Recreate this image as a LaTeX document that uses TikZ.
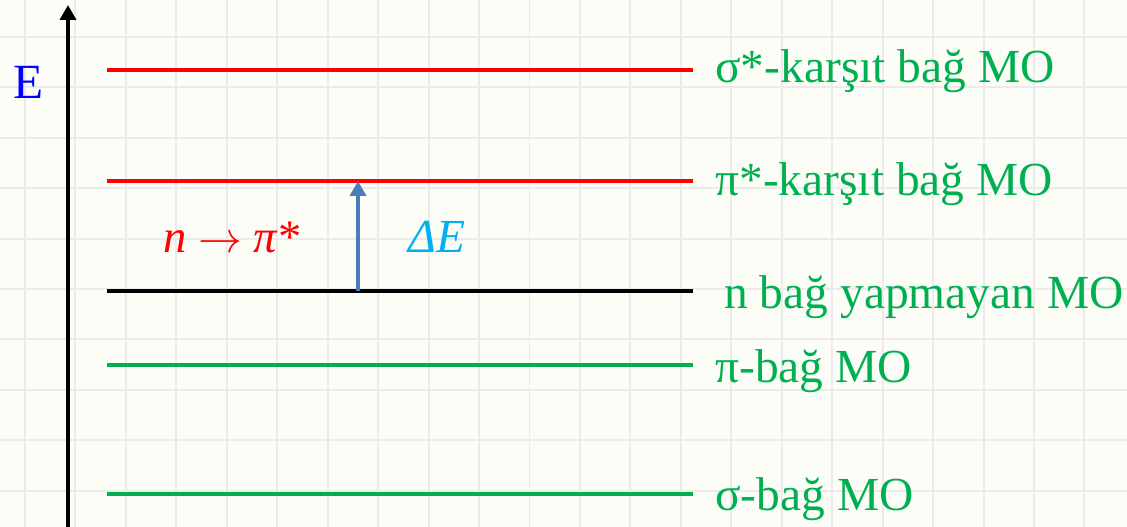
\documentclass[tikz,border=0pt]{standalone}
\usepackage{fontspec}
\setmainfont{Liberation Serif}
\usetikzlibrary{arrows.meta}

\begin{document}
\begin{tikzpicture}[x=0.02cm,y=-0.02cm,>=Latex,
  gridline/.style={draw=black!8,line width=1.1pt},
  molevel/.style={line width=2.4pt},
  molabel/.style={anchor=base west,inner sep=0pt,text=mogreen,font=\fontsize{27}{31}\selectfont}]
\definecolor{paper}{RGB}{253,253,248}
\definecolor{mogreen}{RGB}{0,176,80}
\definecolor{mored}{RGB}{255,0,0}
\definecolor{arrowblue}{RGB}{74,126,187}
\definecolor{deltacyan}{RGB}{0,176,240}
% background and grid
\fill[paper] (0,0) rectangle (1127,527);
\useasboundingbox (0,0) rectangle (1127,527);
\foreach \i in {0,...,21}
  \draw[gridline] ({25+50.45*\i},0) -- ++(0,527);
\foreach \j in {0,...,9}
  \draw[gridline] (0,{37+50.4*\j}) -- ++(1127,0);
% energy axis
\coordinate (axisbot) at (68,527);
\coordinate (axistop) at (68,5);
\draw[line width=2.1pt,-{Triangle[length=0.3cm,width=0.32cm]}] (axisbot) -- (axistop);
\node[anchor=base west,inner sep=0pt,text=blue,font=\fontsize{28}{32}\selectfont] (elabel) at (13,99) {E};
% levels
\node[molabel] (sigstar) at (715,83) {σ*-karşıt bağ MO};
\node[molabel] (pistar) at (715,195) {π*-karşıt bağ MO};
\node[molabel] (nonb) at (724,308) {n bağ yapmayan MO};
\node[molabel] (pibond) at (715,382) {π-bağ MO};
\node[molabel] (sigbond) at (715,510) {σ-bağ MO};
\draw[molevel,mored] (107,70) -- (693,70);
\draw[molevel,mored] (107,181) -- (693,181);
\draw[molevel,black] (107,291) -- (693,291);
\draw[molevel,mogreen] (107,365) -- (693,365);
\draw[molevel,mogreen] (107,494) -- (693,494);
% transition
\coordinate (nlevel) at (358,291);
\coordinate (pilevel) at (358,181);
\draw[line width=2.8pt,arrowblue,-{Triangle[length=0.3cm,width=0.32cm]}] (nlevel) -- (pilevel);
\node[anchor=base west,inner sep=0pt,text=mored,font=\fontsize{26.5}{30}\selectfont] (trans) at (163,253) {\textit{n} $\rightarrow$ \textit{π}*};
\node[anchor=base west,inner sep=0pt,text=deltacyan,font=\fontsize{27}{31}\selectfont\itshape] (dE) at (408,253) {ΔE};
\end{tikzpicture}
\end{document}
